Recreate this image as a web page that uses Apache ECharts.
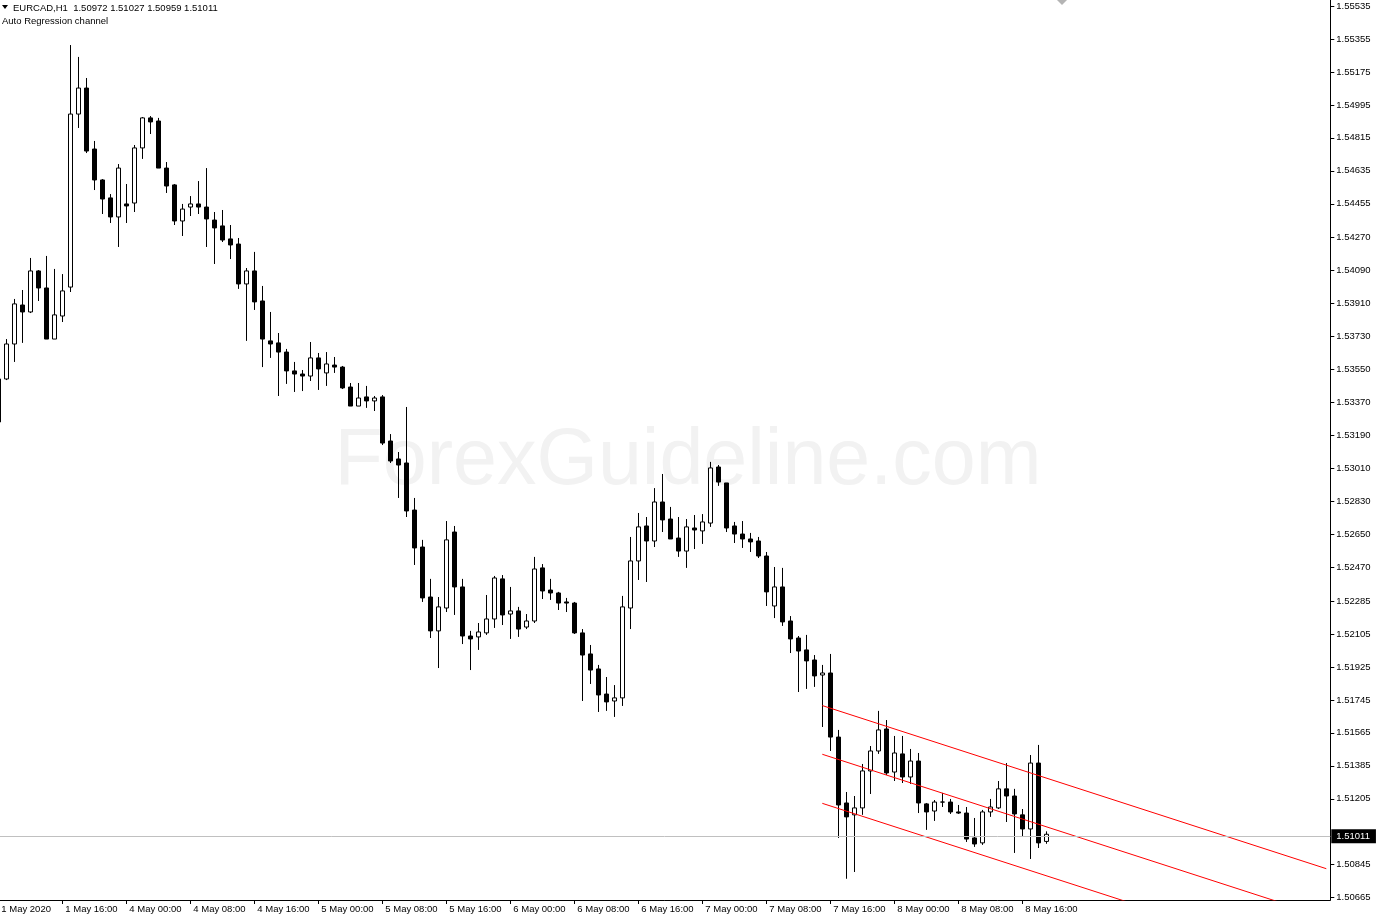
<!DOCTYPE html>
<html><head><meta charset="utf-8">
<script src="https://cdn.jsdelivr.net/npm/echarts@6/dist/echarts.min.js"></script>
<style>html,body{margin:0;padding:0;background:#fff}#c{width:1376px;height:918px}</style>
</head><body><div id="c"></div>
<script>
// Hourly EURCAD bars, first bar = 1 May 08:00 (partly off-chart), last = 8 May 19:00
const opens = [
1.53263,1.53498,1.53689,1.53902,1.53864,1.54088,1.53995,1.53716,1.53842,1.54000,
1.54945,1.55087,1.54754,1.54585,1.54487,1.54383,1.54454,1.54459,1.54760,1.54924,
1.54907,1.54650,1.54558,1.54361,1.54437,1.54454,1.54437,1.54366,1.54334,1.54263,
1.54235,1.54017,1.54088,1.53924,1.53706,1.53695,1.53645,1.53542,1.53525,1.53514,
1.53613,1.53531,1.53574,1.53563,1.53454,1.53350,1.53400,1.53378,1.53400,1.53159,
1.53061,1.53039,1.52782,1.52580,1.52307,1.52122,1.52247,1.52662,1.52362,1.52094,
1.52089,1.52111,1.52187,1.52406,1.52214,1.52231,1.52143,1.52176,1.52466,1.52345,
1.52329,1.52280,1.52274,1.52111,1.51996,1.51914,1.51777,1.51739,1.51756,1.52247,
1.52504,1.52695,1.52613,1.52826,1.52733,1.52629,1.52558,1.52684,1.52668,1.52711,
1.53017,1.52930,1.52695,1.52651,1.52624,1.52613,1.52531,1.52258,1.52362,1.52176,
1.52083,1.52018,1.51963,1.51881,1.51892,1.51542,1.51182,1.51117,1.51155,1.51357,
1.51466,1.51586,1.51351,1.51450,1.51324,1.51411,1.51177,1.51138,1.51187,1.51187,
1.51133,1.51127,1.50991,1.50964,1.51133,1.51155,1.51259,1.51220,1.51117,1.51040,
1.51400,1.50972];
const closes = [
1.53498,1.53689,1.53908,1.53864,1.54088,1.53995,1.53716,1.53848,1.53979,1.54945,
1.55087,1.54743,1.54585,1.54481,1.54383,1.54650,1.54443,1.54760,1.54924,1.54902,
1.54650,1.54552,1.54361,1.54426,1.54454,1.54437,1.54372,1.54323,1.54257,1.54230,
1.54017,1.54088,1.53919,1.53716,1.53689,1.53645,1.53542,1.53525,1.53514,1.53613,
1.53553,1.53580,1.53563,1.53449,1.53350,1.53394,1.53378,1.53394,1.53148,1.53050,
1.53028,1.52777,1.52575,1.52302,1.52122,1.52253,1.52619,1.52362,1.52094,1.52078,
1.52116,1.52187,1.52411,1.52209,1.52231,1.52132,1.52176,1.52460,1.52340,1.52329,
1.52274,1.52274,1.52111,1.51990,1.51908,1.51772,1.51734,1.51756,1.52253,1.52504,
1.52690,1.52613,1.52826,1.52728,1.52624,1.52558,1.52690,1.52673,1.52717,1.53012,
1.52935,1.52684,1.52651,1.52624,1.52608,1.52531,1.52335,1.52362,1.52171,1.52078,
1.52012,1.51958,1.51876,1.51892,1.51542,1.51171,1.51106,1.51155,1.51357,1.51466,
1.51581,1.51346,1.51455,1.51324,1.51411,1.51182,1.51133,1.51187,1.51187,1.51133,
1.51127,1.50985,1.50958,1.51133,1.51160,1.51259,1.51220,1.51122,1.51040,1.51400,
1.50964,1.51011];
const lows = [
1.53252,1.53492,1.53591,1.53695,1.53858,1.53924,1.53716,1.53716,1.53809,1.53973,
1.54869,1.54732,1.54530,1.54399,1.54350,1.54219,1.54350,1.54410,1.54700,1.54836,
1.54650,1.54514,1.54339,1.54279,1.54388,1.54399,1.54219,1.54126,1.54246,1.54153,
1.53990,1.53706,1.53875,1.53563,1.53613,1.53405,1.53471,1.53427,1.53432,1.53487,
1.53438,1.53460,1.53531,1.53443,1.53350,1.53350,1.53340,1.53323,1.53137,1.53039,
1.52848,1.52744,1.52482,1.52280,1.52083,1.51919,1.52225,1.52209,1.52050,1.51908,
1.52018,1.52100,1.52138,1.52154,1.52078,1.52089,1.52132,1.52165,1.52296,1.52291,
1.52236,1.52225,1.52105,1.51739,1.51832,1.51679,1.51685,1.51652,1.51712,1.52132,
1.52400,1.52389,1.52580,1.52662,1.52624,1.52526,1.52466,1.52569,1.52597,1.52690,
1.52914,1.52662,1.52602,1.52575,1.52553,1.52520,1.52258,1.52192,1.52149,1.52001,
1.51788,1.51805,1.51816,1.51597,1.51466,1.50991,1.50768,1.50805,1.51117,1.51231,
1.51450,1.51335,1.51302,1.51291,1.51286,1.51127,1.51035,1.51084,1.51160,1.51122,
1.51122,1.50969,1.50942,1.50953,1.51106,1.51149,1.51078,1.50909,1.50996,1.50876,
1.50936,1.50959];
const highs = [
1.53520,1.53716,1.53935,1.53984,1.54159,1.54093,1.54170,1.54099,1.54071,1.55322,
1.55257,1.55142,1.54798,1.54590,1.54508,1.54672,1.54563,1.54776,1.54929,1.54934,
1.54924,1.54683,1.54563,1.54454,1.54497,1.54579,1.54650,1.54410,1.54421,1.54339,
1.54268,1.54104,1.54192,1.54006,1.53864,1.53749,1.53662,1.53591,1.53547,1.53700,
1.53640,1.53645,1.53618,1.53569,1.53476,1.53476,1.53460,1.53405,1.53410,1.53197,
1.53099,1.53345,1.52848,1.52619,1.52406,1.52307,1.52722,1.52695,1.52406,1.52122,
1.52165,1.52318,1.52422,1.52427,1.52362,1.52253,1.52214,1.52526,1.52487,1.52406,
1.52335,1.52302,1.52280,1.52132,1.52045,1.51936,1.51870,1.51826,1.52313,1.52635,
1.52766,1.52744,1.52902,1.52979,1.52799,1.52744,1.52733,1.52755,1.52760,1.53045,
1.53028,1.52930,1.52717,1.52722,1.52657,1.52635,1.52553,1.52471,1.52466,1.52203,
1.52094,1.52100,1.51990,1.51936,1.51996,1.51581,1.51242,1.51220,1.51395,1.51493,
1.51685,1.51635,1.51548,1.51548,1.51477,1.51455,1.51182,1.51198,1.51237,1.51204,
1.51171,1.51160,1.51100,1.51144,1.51204,1.51302,1.51400,1.51259,1.51149,1.51444,
1.51499,1.51027];

// regression channel: [value at start bar, value at right edge]
const channelStartBar = 103;
const channelUpper  = [1.51714, 1.50823];
const channelMiddle = [1.51448, 1.50557];
const channelLower  = [1.51180, 1.50290];

const yTicks = [1.55535,1.55355,1.55175,1.54995,1.54815,1.54635,1.54455,1.54270,1.54090,1.53910,
1.53730,1.53550,1.53370,1.53190,1.53010,1.52830,1.52650,1.52470,1.52285,1.52105,1.51925,1.51745,
1.51565,1.51385,1.51205,1.50845,1.50665];
const xTickLabels = ["1 May 2020","1 May 16:00","4 May 00:00","4 May 08:00","4 May 16:00","5 May 00:00",
"5 May 08:00","5 May 16:00","6 May 00:00","6 May 08:00","6 May 16:00","7 May 00:00","7 May 08:00",
"7 May 16:00","8 May 00:00","8 May 08:00","8 May 16:00"];
const xTickEvery = 8;
const totalSlots = 167; // includes empty space to the right (chart shift)

const header = "EURCAD,H1  1.50972 1.51027 1.50959 1.51011";
const indicatorName = "Auto Regression channel";

function pad(n){return (n<10?'0':'')+n;}
const categories = [];
for (let h=8; h<24; h++) categories.push('1 May ' + pad(h) + ':00');
let day = 4;
while (categories.length < totalSlots) {
  for (let h=0; h<24 && categories.length < totalSlots; h++) categories.push(day + ' May ' + pad(h) + ':00');
  day++;
}
const candleData = opens.map((o,i)=>[o, closes[i], lows[i], highs[i]]);
const lastClose = closes[closes.length-1];
const lastSlot = totalSlots-1;
function chan(v){ return [[categories[channelStartBar], v[0]],[categories[lastSlot], v[1]]]; }
const showTick = (idx)=> idx % xTickEvery === 0 && idx / xTickEvery < xTickLabels.length;
const FONT = '"Liberation Sans", Arial, sans-serif';

const chart = echarts.init(document.getElementById('c'), null, {renderer:'canvas'});
const redLine = (name, v) => ({
  name, type:'line', data: chan(v), symbol:'none', showSymbol:false, silent:true, clip:true,
  lineStyle:{color:'#ff0000', width:1}, z:3, animation:false
});
chart.setOption({
  animation:false,
  backgroundColor:'#ffffff',
  grid:{left:-5.7, right:45.7, top:0, bottom:18, containLabel:false, outerBoundsMode:'none'},
  xAxis:{
    type:'category', data:categories, boundaryGap:true,
    axisLine:{show:true, lineStyle:{color:'#000', width:1}},
    axisTick:{show:true, alignWithLabel:true, length:4, interval:(i)=>showTick(i), lineStyle:{color:'#000'}},
    axisLabel:{show:true, interval:(i)=>showTick(i), align:'left', margin:4, padding:[0,0,0,3],
      color:'#000', fontSize:9.5, fontFamily:FONT, hideOverlap:false,
      formatter:(v,i)=> showTick(i) ? xTickLabels[i/xTickEvery] : ''},
    splitLine:{show:false}
  },
  yAxis:{
    type:'value', position:'right', min:1.50652, max:1.55568, scale:true,
    axisLine:{show:true, lineStyle:{color:'#000', width:1}},
    axisTick:{show:true, length:4, customValues:yTicks, lineStyle:{color:'#000'}},
    axisLabel:{show:true, customValues:yTicks, margin:6, color:'#000', fontSize:9.5, fontFamily:FONT,
      formatter:(v)=>v.toFixed(5)},
    splitLine:{show:false}
  },
  graphic:[
    {type:'text', x:688, y:462, z:-10, silent:true,
     style:{text:'ForexGuideline.com', fill:'#f2f2f2', font:'79px '+FONT, align:'center', verticalAlign:'middle'}},
    {type:'polygon', shape:{points:[[2,5],[8,5],[5,9]]}, style:{fill:'#000'}},
    {type:'text', x:13, y:8, style:{text:header, fill:'#000', font:'9.5px '+FONT, verticalAlign:'middle'}},
    {type:'text', x:2, y:21, style:{text:indicatorName, fill:'#000', font:'9.5px '+FONT, verticalAlign:'middle'}},
    {type:'polygon', shape:{points:[[1057,0],[1067,0],[1062,5]]}, style:{fill:'#b4b4b4'}}
  ],
  series:[
    {
      type:'candlestick', data:candleData, barWidth:5, z:2,
      itemStyle:{color:'#ffffff', color0:'#000000', borderColor:'#000000', borderColor0:'#000000', borderColorDoji:'#000000', borderWidth:1},
      emphasis:{disabled:true},
      markLine:{
        symbol:['none','none'], silent:true, animation:false,
        lineStyle:{color:'#c0c0c0', width:1, type:'solid'},
        label:{show:true, position:'end', distance:1, formatter:()=>lastClose.toFixed(5),
          color:'#fff', backgroundColor:'#000', padding:[2,6,1,5], fontSize:9.5, lineHeight:11, fontFamily:FONT},
        emphasis:{disabled:true},
        data:[{yAxis:lastClose}]
      }
    },
    redLine('upper', channelUpper),
    redLine('middle', channelMiddle),
    redLine('lower', channelLower)
  ]
});
</script>
</body></html>
